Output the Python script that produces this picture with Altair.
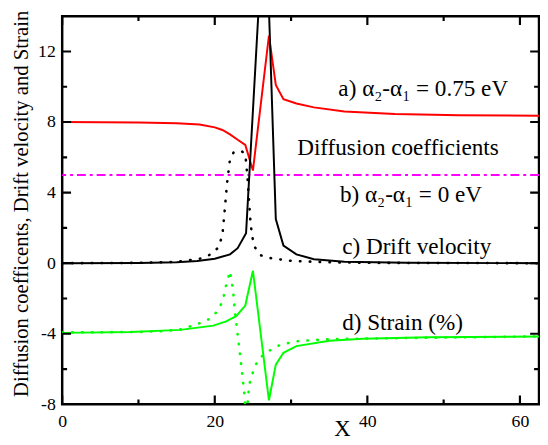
import altair as alt
import pandas as pd

# ---- data ----
a_x = [0, 5, 10, 15, 18, 20, 21, 22, 23, 24, 25, 27.1, 28, 29, 30.7, 33, 37, 43.6, 52, 62.5]
a_y = [8.0, 7.99, 7.97, 7.93, 7.86, 7.7, 7.55, 7.3, 7.0, 6.7, 5.25, 12.9, 10.1, 9.3, 9.05, 8.83, 8.6, 8.45, 8.38, 8.36]

b_level = 5.0

c_x = [0, 10, 15, 17.7, 20, 22, 23, 24.1, 26.6, 28, 29, 30.7, 33, 37, 45, 62.5]
c_y = [0, 0.01, 0.05, 0.13, 0.25, 0.5, 0.85, 1.7, 21, 2.5, 1.0, 0.5, 0.22, 0.08, 0.02, 0]

cd_x = [0, 10, 15, 18, 19.5, 20.5, 21, 21.3, 21.6, 22, 22.5, 23.5, 24, 24.3, 24.5, 24.7, 25.1, 26, 27.5, 30, 35, 40, 62.5]
cd_y = [0, 0.02, 0.08, 0.25, 0.5, 0.9, 1.6, 3.0, 4.5, 5.9, 6.3, 6.35, 6.2, 4.8, 3.5, 2.2, 1.0, 0.45, 0.27, 0.13, 0.05, 0.02, 0]

d_x = [0, 9, 15.5, 19.8, 21.5, 22.8, 24, 25, 27.1, 28, 29, 30.7, 35, 39.4, 48, 62.5]
d_y = [-3.95, -3.9, -3.78, -3.54, -3.3, -3.0, -2.4, -0.43, -7.77, -5.75, -5.08, -4.7, -4.4, -4.28, -4.2, -4.15]

dd_x = [0, 10, 13.4, 15.5, 17.7, 19.2, 20.3, 21.1, 21.3, 22, 22.4, 22.6, 23.1, 23.5, 23.9, 24.1, 24.5, 25.2, 25.8, 27, 28.6, 30.7, 35, 62.5]
dd_y = [-3.92, -3.9, -3.85, -3.75, -3.46, -3.18, -2.75, -2.1, -1.55, -0.45, -1.55, -2.6, -4.4, -5.9, -7.5, -9.0, -6.9, -5.9, -5.4, -5.0, -4.62, -4.43, -4.3, -4.15]

x_dom = [0, 62.5]
y_dom = [-8, 14]
x_major = [0, 20, 40, 60]
x_minor = [10, 30, 50]
y_major = [-8, -4, 0, 4, 8, 12]
y_minor = [-6, -2, 2, 6, 10]

labels_text = ["a) α₂-α₁ = 0.75 eV", "Diffusion coefficients", "b) α₂-α₁ = 0 eV",
               "c) Drift velocity", "d) Strain (%)"]
labels_x = [36.2, 30.8, 36.4, 36.7, 36.7]
labels_y = [9.45, 6.15, 3.48, 0.54, -3.78]

# ---- chart ----
FONT = "'Liberation Serif', 'DejaVu Serif', 'Times New Roman', serif"
xscale = alt.Scale(domain=x_dom, nice=False, zero=False)
yscale = alt.Scale(domain=y_dom, nice=False, zero=False)
xaxis = alt.Axis(values=x_major, title="X", titleX=284, titleY=32, titleBaseline="alphabetic",
                 titleAlign="center", titleFontSize=23, labelExpr="'' + datum.value",
                 labelPadding=9, labelFlush=False, labelOverlap=False)
yaxis = alt.Axis(values=y_major, title="Diffusion coefficents, Drift velocity and Strain",
                 titleX=-35.5, titleY=190, titleBaseline="alphabetic", titleAlign="center",
                 titleAngle=270, titleFontSize=21, labelExpr="'' + datum.value",
                 labelPadding=7, labelFlush=False, labelOverlap=False)


def X(f="x"):
    return alt.X(f + ":Q", scale=xscale, axis=xaxis)


def Y(f="y"):
    return alt.Y(f + ":Q", scale=yscale, axis=yaxis)


def line(xs, ys, color, dash=None, width=2.0):
    df = pd.DataFrame({"x": xs, "y": ys})
    kw = dict(color=color, strokeWidth=width, clip=True)
    if dash is not None:
        kw["strokeDash"] = dash
        kw["strokeCap"] = "round"
    return alt.Chart(df).mark_line(**kw).encode(x=X(), y=Y())


lay = []
lay.append(line(a_x, a_y, "#ff0000"))
lay.append(alt.Chart(pd.DataFrame({"y": [b_level]})).mark_rule(
    color="#ff00ff", strokeWidth=2, strokeDash=[9, 4, 3, 4]).encode(y=Y()))
lay.append(line(cd_x, cd_y, "#000000", dash=[0.5, 9.5], width=2.6))
lay.append(line(c_x, c_y, "#000000"))
lay.append(line(dd_x, dd_y, "#00ff00", dash=[0.5, 9.5], width=2.6))
lay.append(line(d_x, d_y, "#00ff00"))

lab = pd.DataFrame({"x": labels_x, "y": labels_y, "t": labels_text})
lay.append(alt.Chart(lab).mark_text(font=FONT, fontSize=23.5, align="left",
                                     baseline="alphabetic", color="black").encode(
    x=X(), y=Y(), text="t:N"))

# inward tick marks on all four edges (half of each tick is clipped away)
hmaj = pd.DataFrame({"x": [x_dom[0]] * len(y_major) + [x_dom[1]] * len(y_major), "y": y_major * 2})
hmin = pd.DataFrame({"x": [x_dom[0]] * len(y_minor) + [x_dom[1]] * len(y_minor), "y": y_minor * 2})
vmaj = pd.DataFrame({"x": x_major * 2, "y": [y_dom[0]] * len(x_major) + [y_dom[1]] * len(x_major)})
vmin = pd.DataFrame({"x": x_minor * 2, "y": [y_dom[0]] * len(x_minor) + [y_dom[1]] * len(x_minor)})
for df, orient, size in [(hmaj, "horizontal", 18), (hmin, "horizontal", 10),
                         (vmaj, "vertical", 18), (vmin, "vertical", 10)]:
    lay.append(alt.Chart(df).mark_tick(orient=orient, size=size, thickness=2.2,
                                        color="black", clip=True, opacity=1).encode(x=X(), y=Y()))

chart = alt.layer(*lay).properties(
    width=484, height=394,
    autosize=alt.AutoSizeParams(type="none"),
    padding={"left": 55, "top": 5, "right": 1, "bottom": 40},
).configure_view(stroke="black", strokeWidth=2.5).configure_axis(
    domain=False, ticks=False, grid=False, labelFont=FONT, labelFontSize=18,
    labelColor="black", titleFont=FONT, titleColor="black", titleFontWeight="normal"
)

chart.save("out.html", embed_options={"renderer": "svg", "actions": False})
